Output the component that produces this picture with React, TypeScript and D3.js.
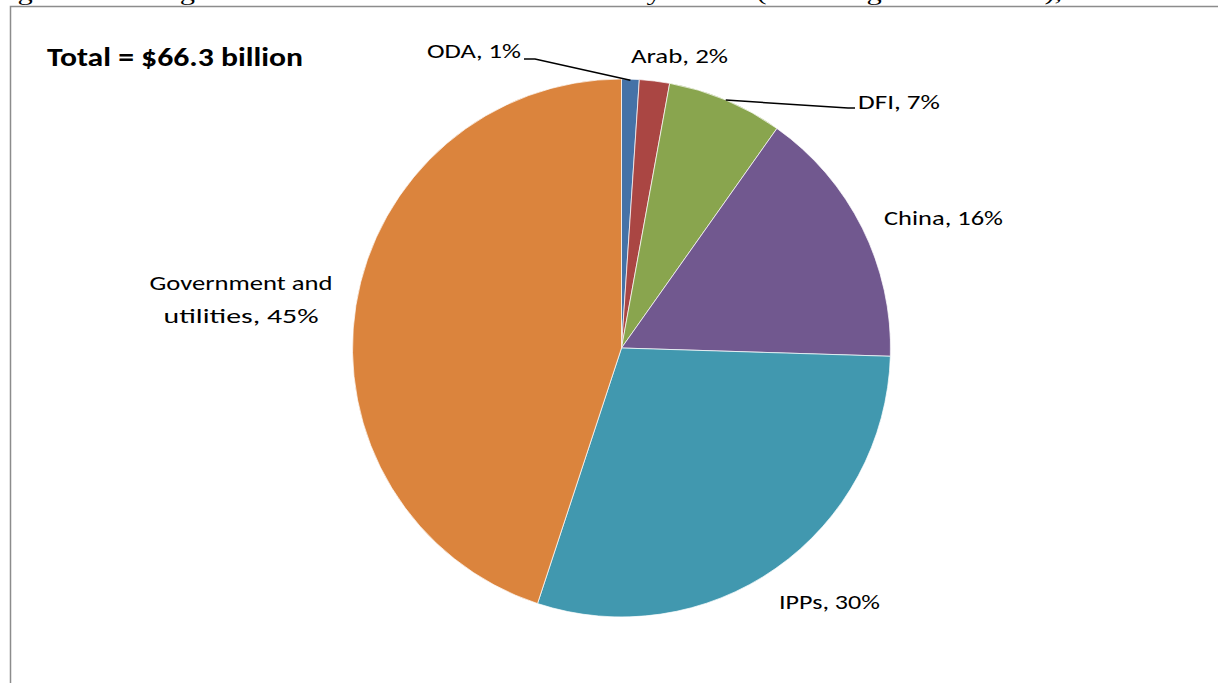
import React from "react";
import * as d3 from "d3";

const categories = ["ODA", "Arab", "DFI", "China", "IPPs", "Government and utilities"];
const valuesBn = [0.7, 1.2, 4.6, 10.4, 19.6, 29.8];
const pctLabels = ["1%", "2%", "7%", "16%", "30%", "45%"];
const colors = ["#4572A7", "#AA4643", "#89A54E", "#71588F", "#4198AF", "#DB843D"];
const totalLabel = "Total = $66.3 billion";
const caption = "Figure 4: Total generation investment commitments by source (including South Africa), 1990-2013";

const W = 1218;
const H = 683;
const cx = 621.5;
const cy = 348;
const R = 269;

const FONT = "Carlito, Lato, 'Open Sans', sans-serif";

type LabelLayout = { x: number; y: number; anchor: "start" | "middle" | "end"; lines: string[]; widths: number[] };

export default function App() {
  const data = categories.map((c, i) => ({ cat: c, v: valuesBn[i], pct: pctLabels[i], color: colors[i] }));
  const pie = d3.pie<any>().sort(null).value((d) => d.v).startAngle(0).endAngle(2 * Math.PI);
  const arcs = pie(data);
  const arcGen = d3.arc<any>().innerRadius(0).outerRadius(R);

  const pointAt = (a: number, r: number) => [cx + r * Math.sin(a), cy - r * Math.cos(a)];
  const mid = (d: any) => (d.startAngle + d.endAngle) / 2;

  const layouts: LabelLayout[] = [
    { x: 427, y: 58, anchor: "start", lines: [`${categories[0]}, ${pctLabels[0]}`], widths: [94] },
    { x: 631, y: 63, anchor: "start", lines: [`${categories[1]}, ${pctLabels[1]}`], widths: [97] },
    { x: 858, y: 109, anchor: "start", lines: [`${categories[2]}, ${pctLabels[2]}`], widths: [82] },
    { x: 884, y: 225, anchor: "start", lines: [`${categories[3]}, ${pctLabels[3]}`], widths: [119] },
    { x: 779, y: 609, anchor: "start", lines: [`${categories[4]}, ${pctLabels[4]}`], widths: [101] },
    { x: 241, y: 290, anchor: "middle", lines: ["Government and", `utilities, ${pctLabels[5]}`], widths: [183, 155] },
  ];

  const odaP = pointAt(mid(arcs[0]), R - 1);
  const dfiP = pointAt(mid(arcs[2]), R);
  const odaLine = [[524, 59], [535, 59], odaP];
  const dfiLine = [dfiP, [848, 108], [855, 108]];
  const lineGen = d3.line();

  return (
    <svg width={W} height={H} style={{ position: "absolute", left: 0, top: 0, background: "#fff" }}>
      <text x={-8} y={0} fontFamily="'Liberation Serif', 'Times New Roman', serif" fontSize={22} fill="#000" textLength={1210} lengthAdjust="spacingAndGlyphs">
        {caption}
      </text>
      <rect x={10.5} y={6.5} width={W + 20} height={H + 20} fill="none" stroke="#8c8c8c" strokeWidth={1.5} />
      <text x={47} y={66} fontFamily={FONT} fontWeight="bold" fontSize={27} fill="#000" textLength={256} lengthAdjust="spacingAndGlyphs">
        {totalLabel}
      </text>
      <g>
        {arcs.map((a, i) => (
          <path key={i} d={arcGen(a) as string} transform={`translate(${cx},${cy})`} fill={a.data.color} stroke="#fff" strokeWidth={1} strokeOpacity={0.7} />
        ))}
      </g>
      <path d={lineGen(odaLine as any) as string} fill="none" stroke="#000" strokeWidth={1.5} />
      <path d={lineGen(dfiLine as any) as string} fill="none" stroke="#000" strokeWidth={1.5} />
      {layouts.map((l, i) => (
        <text key={i} fontFamily={FONT} fontSize={21} fill="#000" textAnchor={l.anchor}>
          {l.lines.map((ln, j) => (
            <tspan key={j} x={l.x} y={l.y + j * 33} textLength={l.widths[j]} lengthAdjust="spacingAndGlyphs">
              {ln}
            </tspan>
          ))}
        </text>
      ))}
    </svg>
  );
}
